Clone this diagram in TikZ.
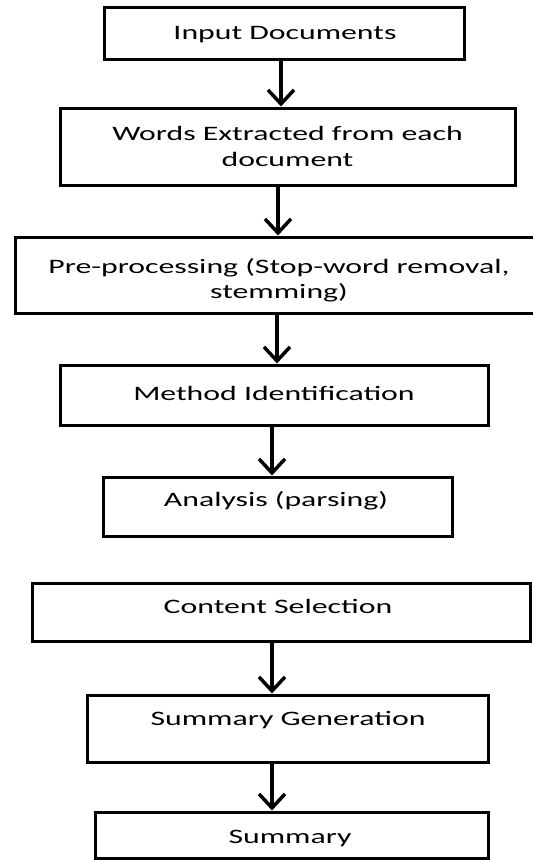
\documentclass[tikz,border=0pt]{standalone}
\usepackage{fontspec}
\newfontfamily\calfont[FakeStretch=1.55]{Carlito}
\usetikzlibrary{arrows.meta}
\begin{document}
\begin{tikzpicture}[x=1pt,y=-1pt,
  box/.style={draw, line width=3pt, rectangle, inner sep=0pt},
  lbl/.style={font=\calfont\fontsize{20.5pt}{26.7pt}\selectfont, inner sep=0pt, align=center},
  arr/.style={line width=3.5pt, -{Straight Barb[length=14pt,width=26pt]}}]
\useasboundingbox (0,0) rectangle (533,860);
% boxes
\node[box, minimum width=360pt, minimum height=52pt] (b1) at (284,33) {};
\node[box, minimum width=455pt, minimum height=77pt] (b2) at (287.5,146.5) {};
\node[box, minimum width=530pt, minimum height=76pt] (b3) at (280,275) {};
\node[box, minimum width=428pt, minimum height=60pt] (b4) at (274,395) {};
\node[box, minimum width=349pt, minimum height=59pt] (b5) at (277.5,506.5) {};
\node[box, minimum width=498pt, minimum height=58pt] (b6) at (281,612) {};
\node[box, minimum width=401pt, minimum height=67pt] (b7) at (287.5,728.5) {};
\node[box, minimum width=393pt, minimum height=46pt] (b8) at (291.5,835) {};
% labels
\node[lbl, anchor=base] (t1) at (285,39.5) {Input Documents};
\node[lbl] (t2) at (287.5,146.5) {Words Extracted from each\\document};
\node[lbl, font=\calfont\fontsize{20.5pt}{25pt}\selectfont] (t3) at (279,280) {Pre-processing (Stop-word removal,\\stemming)};
\node[lbl, anchor=base] (t4) at (274,400.7) {Method Identification};
\node[lbl, anchor=base] (t5) at (276,506.7) {Analysis (parsing)};
\node[lbl, anchor=base] (t6) at (278,613) {Content Selection};
\node[lbl, anchor=base] (t7) at (288,725) {Summary Generation};
\node[lbl, anchor=base] (t8) at (290,843) {Summary};
% arrows
\draw[arr] ([xshift=-3pt]b1.south) -- ([xshift=-6.5pt]b2.north);
\draw[arr] ([xshift=-9.5pt]b2.south) -- ([xshift=-2pt]b3.north);
\draw[arr] ([xshift=-3pt]b3.south) -- ([xshift=3pt]b4.north);
\draw[arr] ([xshift=-2pt]b4.south) -- ([xshift=-5.5pt]b5.north);
\draw[arr] ([xshift=-9pt]b6.south) -- ([xshift=-15.5pt]b7.north);
\draw[arr] ([xshift=-15.5pt]b7.south) -- ([xshift=-19.5pt]b8.north);
\end{tikzpicture}
\end{document}
